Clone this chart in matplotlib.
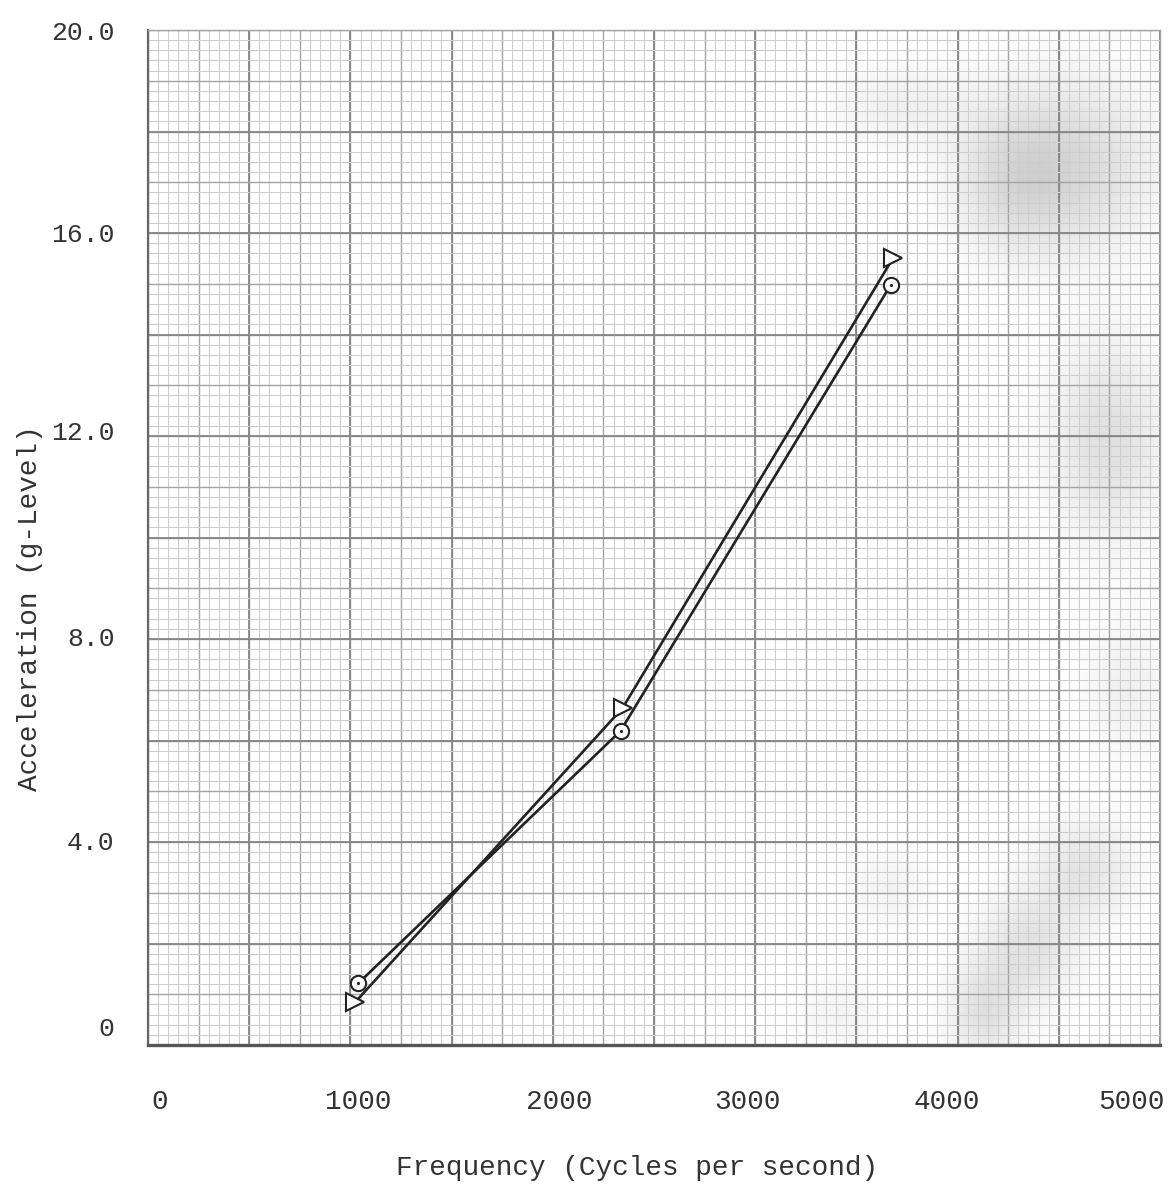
"""
Acceleration vs frequency, redrawn from a typewritten graph-paper figure.
"""

import matplotlib

matplotlib.use("Agg")
import matplotlib.pyplot as plt
import matplotlib.transforms as mtransforms
import numpy as np

# values
freq_tri = [1025, 2345, 3680]
accel_tri = [0.85, 6.64, 15.5]

freq_circ = [1040, 2335, 3670]
accel_circ = [1.22, 6.19, 14.98]

x_ticks = [0, 1000, 2000, 3000, 4000, 5000]
x_labels = ["0", "1000", "2000", "3000", "4000", "5000"]
y_ticks = [0, 4, 8, 12, 16, 20]
y_labels = ["0", "4.0", "8.0", "12.0", "16.0", "20.0"]

FONT = "Liberation Mono"
INK = "#222222"
TEXT = "#333333"

W, H = 1171, 1193
fig = plt.figure(figsize=(W / 100, H / 100), dpi=100)
ax = fig.add_axes([148 / W, 1 - 1045 / H, 1012 / W, 1015 / H])

# faint scan stains on the right half of the sheet (x, y, sx, sy, strength in axes fractions)
stains = [
    (0.911, 0.867, 0.060, 0.060, 0.26),
    (0.852, 0.852, 0.040, 0.050, 0.15),
    (0.743, 0.926, 0.050, 0.030, 0.10),
    (0.950, 0.596, 0.040, 0.070, 0.22),
    (0.926, 0.172, 0.035, 0.035, 0.18),
    (0.872, 0.094, 0.035, 0.040, 0.20),
    (0.827, 0.030, 0.025, 0.035, 0.20),
    (0.733, 0.153, 0.030, 0.030, 0.08),
    (0.684, 0.030, 0.030, 0.025, 0.08),
    (0.970, 0.350, 0.030, 0.050, 0.10),
]
gx, gy = np.meshgrid(np.linspace(0, 1, 300), np.linspace(0, 1, 300))
alpha = np.zeros_like(gx)
for cx, cy, sx, sy, k in stains:
    alpha += k * np.exp(-(((gx - cx) / sx) ** 2 + ((gy - cy) / sy) ** 2) / 2)
rgba = np.zeros(gx.shape + (4,))
rgba[..., :3] = 0.45
rgba[..., 3] = np.clip(alpha, 0, 0.4)
ax.imshow(rgba, extent=[0, 1, 0, 1], origin="lower", transform=ax.transAxes,
          aspect="auto", interpolation="bilinear", zorder=0.5)

# graph paper: fine / medium / heavy rulings
for step, col, lw in [(50, "#cdcdcd", 0.75), (250, "#a4a4a4", 1.0), (500, "#858585", 1.3)]:
    ax.vlines(np.arange(0, 5001, step), 0, 20, colors=col, linewidth=lw, zorder=1)
for step, col, lw in [(0.2, "#cdcdcd", 0.75), (1.0, "#a4a4a4", 1.0), (2.0, "#858585", 1.3)]:
    ax.hlines(np.arange(0, 20.01, step), 0, 5000, colors=col, linewidth=lw, zorder=1)

ax.set_xlim(0, 5000)
ax.set_ylim(0, 20)

for side in ["top", "right"]:
    ax.spines[side].set_color("#a4a4a4")
    ax.spines[side].set_linewidth(1.0)
ax.spines["left"].set_color("#666666")
ax.spines["left"].set_linewidth(1.6)
ax.spines["bottom"].set_color("#555555")
ax.spines["bottom"].set_linewidth(2.4)

ax.plot(
    freq_tri, accel_tri, color=INK, linewidth=1.9, marker=">", markersize=13,
    markerfacecolor="white", markeredgecolor=INK, markeredgewidth=1.5, zorder=3,
)
ax.plot(
    freq_circ, accel_circ, color=INK, linewidth=1.9, marker="o", markersize=11,
    markerfacecolor="white", markeredgecolor=INK, markeredgewidth=1.5, zorder=3,
)
# small dot in the middle of the circles
ax.plot(freq_circ, accel_circ, linestyle="none", marker=".", markersize=2.5,
        color=INK, zorder=4)

ax.set_xticks(x_ticks)
ax.set_xticklabels(x_labels, fontfamily=FONT, fontsize=20, color=TEXT)
ax.set_yticks(y_ticks)
ax.set_yticklabels(y_labels, fontfamily=FONT, fontsize=19, color=TEXT)
ax.tick_params(axis="x", length=0, pad=32)
ax.tick_params(axis="y", length=0, pad=24)

# the typed labels do not sit exactly on the rulings; nudge them (pixels)
x_nudge = [12, 8, 6, -8, -11, -29]
for lab, dx in zip(ax.get_xticklabels(), x_nudge):
    lab.set_transform(lab.get_transform()
                      + mtransforms.ScaledTranslation(dx / 100, 0, fig.dpi_scale_trans))
y_nudge = [19, 2, 2, 5, 0, 0]
for lab, dy in zip(ax.get_yticklabels(), y_nudge):
    lab.set_transform(lab.get_transform()
                      + mtransforms.ScaledTranslation(0, dy / 100, fig.dpi_scale_trans))

ax.set_xlabel("Frequency (Cycles per second)", fontfamily=FONT, fontsize=20, color=TEXT)
ax.xaxis.set_label_coords(0.483, -0.108)
ax.set_ylabel("Acceleration (g-Level)", fontfamily=FONT, fontsize=20, color=TEXT)
ax.yaxis.set_label_coords(-0.104, 0.43)

fig.savefig("out.png", dpi=100, facecolor="white")
